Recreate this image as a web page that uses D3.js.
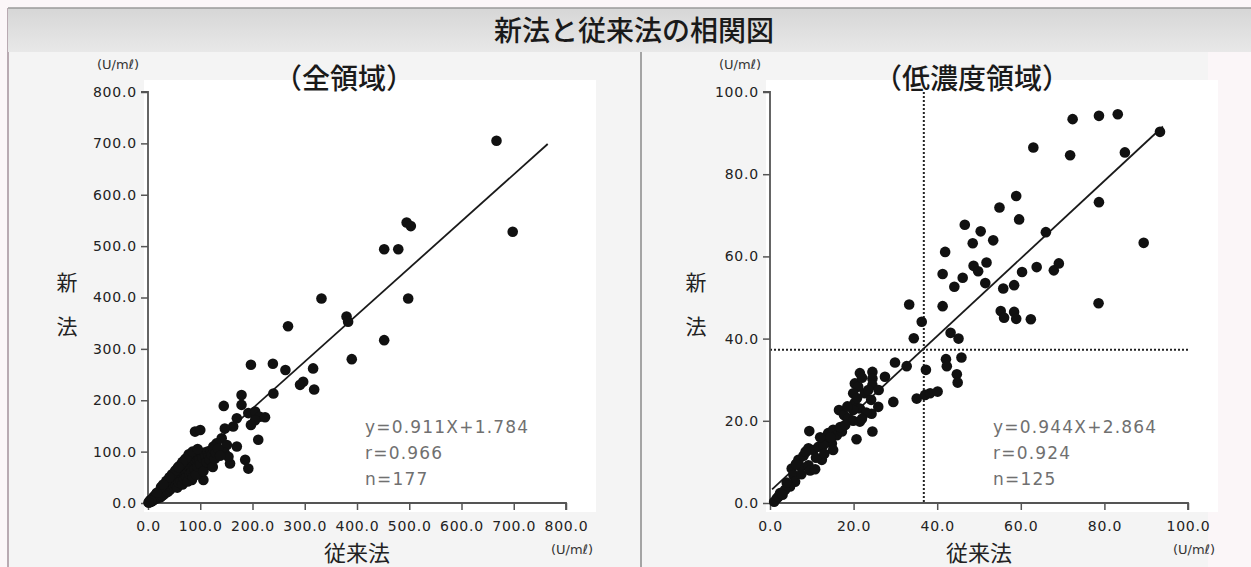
<!DOCTYPE html>
<html>
<head>
<meta charset="utf-8">
<script src="https://cdnjs.cloudflare.com/ajax/libs/d3/7.8.5/d3.min.js"></script>
<style>
  html, body { margin: 0; padding: 0; background: #fbf6f8; }
  svg { display: block; }
</style>
</head>
<body>
<svg id="chart" width="1251" height="567"></svg>
<script>
// ---- data ----
const mainTitle = "新法と従来法の相関図";
const panelTitles = ["（全領域）", "（低濃度領域）"];
const unitLabel = "(U/mℓ)";
const xLabel = "従来法";
const yLabelChars = ["新", "法"];

const fullTicks = [0, 100, 200, 300, 400, 500, 600, 700, 800];
const lowTicks = [0, 20, 40, 60, 80, 100];

const fullStats = ["y=0.911X+1.784", "r=0.966", "n=177"];
const lowStats = ["y=0.944X+2.864", "r=0.924", "n=125"];

const fullFit = { slope: 0.911, intercept: 1.784, xFrom: 0, xTo: 765 };
const lowFit = { slope: 0.944, intercept: 2.864, xFrom: 0.5, xTo: 94 };

// cut-off lines in low range chart
const cutoffX = 36.8;
const cutoffY = 37.3;

// full range points [従来法, 新法]
const fullPoints = [
  [667,705],[698,528],[495,546],[503,539],[452,494],[479,494],[332,398],[498,398],
  [380,363],[383,353],[452,317],[390,280],[316,262],[297,236],[291,230],[318,221],
  [268,344],[197,269],[239,271],[263,259],[240,213],[179,210],[179,191],[145,189],
  [192,175],[205,178],[214,168],[224,167],[205,161],[197,152],[170,165],[163,149],
  [147,145],[211,123],[90,139],[100,142],[141,126],[131,116],[151,113],[170,110],
  [147,97],[157,77],[154,90],[186,84],[192,67],[125,110],[119,100],[106,45],
  [109,71],[96,58],[84,45],
  [2,1],[3,4],[4,2],[5,6],[7,3],[8,8],[9,5],[10,11],[11,6],[12,13],[13,8],[14,15],
  [15,10],[16,18],[18,9],[19,14],[20,21],[21,12],[22,23],[23,16],[24,11],[25,26],
  [26,19],[27,14],[28,29],[30,22],[31,17],[32,33],[33,25],[34,20],[36,38],[37,28],
  [38,22],[39,41],[40,31],[42,26],[43,44],[44,35],[45,29],[47,49],[48,40],[49,33],
  [50,53],[52,43],[53,36],[54,56],[55,46],[56,30],[57,59],[58,49],[59,40],[61,62],
  [62,52],[63,43],[64,65],[65,56],[66,36],[67,68],[68,59],[69,47],[70,72],[72,63],
  [73,50],[74,75],[75,66],[76,42],[77,78],[79,70],[80,56],[81,82],[82,73],[83,60],
  [84,85],[85,77],[86,50],[87,88],[88,79],[89,66],[90,90],[91,82],[92,55],[93,92],
  [94,84],[95,71],[97,94],[98,86],[100,76],[102,96],[104,88],[106,62],[108,98],
  [110,90],[112,80],[114,100],[116,92],[118,84],[120,102],[122,94],[124,70],[126,104],
  [128,86],[130,98],[134,106],[138,92],[60,72],[71,85],[78,95],[46,56],[56,67],
  [35,43],[25,31],[17,20],[6,4],[1,1],[64,76],[74,88],[52,63],[41,50],[29,36],
  [85,100],[95,105],[66,80],[58,70]
];

// low range points [従来法, 新法]
const lowPoints = [
  [72.4,93.4],[78.7,94.2],[83.2,94.6],[93.3,90.3],[84.9,85.3],[63.0,86.5],[71.8,84.6],
  [58.9,74.7],[54.9,71.9],[59.6,69.0],[78.7,73.2],[46.6,67.7],[50.4,66.1],[48.5,63.2],
  [53.4,63.9],[66.0,65.9],[89.4,63.3],[41.9,61.1],[41.3,55.7],[48.7,57.7],[49.8,56.4],
  [51.8,58.5],[46.1,54.8],[44.1,52.6],[51.5,53.5],[55.8,52.2],[58.4,53.0],[60.3,56.2],
  [63.8,57.4],[67.9,56.6],[69.1,58.3],[41.3,47.9],[78.6,48.6],[55.2,46.7],[56.0,45.1],
  [58.4,46.5],[58.9,44.8],[62.4,44.7],[43.2,41.4],[45.1,40.0],[42.1,35.0],[42.3,33.3],
  [45.8,35.4],[44.7,31.3],[44.9,29.3],
  [33.3,48.3],[36.3,44.1],[34.4,40.1],[29.9,34.2],[32.7,33.3],[37.3,32.4],[35.1,25.4],
  [37.1,26.3],[38.3,26.7],[40.1,27.1],[29.5,24.6],[27.5,30.7],[24.5,31.9],[24.5,30.3],
  [24.5,28.7],[21.5,31.6],[20.3,29.1],[21.1,28.3],[19.9,26.7],[22.7,26.7],[24.2,25.1],
  [25.9,23.4],[24.3,21.7],[24.5,17.4],[20.2,24.3],[21.5,23.0],[19.9,22.6],[16.5,22.6],
  [17.7,21.4],[18.7,20.6],[19.9,20.0],[21.5,19.8],[20.7,15.5],[9.4,17.5],[13.9,17.0],
  [15.1,17.8],[16.0,16.5],[17.2,17.4],[13.6,15.3],[14.8,14.5],[15.1,12.9],[9.2,13.3],
  [10.4,12.9],[11.6,13.7],[12.8,14.1],[12.4,10.5],[6.8,10.5],[7.4,8.8],[9.2,9.2],
  [9.6,7.9],[10.8,8.2],[5.2,8.4],[5.6,6.8],[6.0,5.2],[4.8,4.0],[3.6,3.2],[2.4,2.4],
  [1.6,1.1],[1.0,0.3],
  [8.0,11.5],[11.0,11.0],[7.5,7.0],[4.0,5.0],[2.0,1.5],[13.0,12.0],[16.8,18.5],
  [18.0,19.0],[22.0,30.5],[23.5,27.5],[20.8,25.5],[23.0,22.0],[18.5,23.5],[12.0,16.0],
  [14.5,16.0],[8.5,12.5],[6.2,9.5],[26.0,27.5],[3.0,2.0],[22.0,20.5]
];

// ---- drawing ----
const svg = d3.select("#chart");
const fmt = d3.format(".1f");
const numFont = "'DejaVu Sans', sans-serif";
const jpFont = "'Noto Sans CJK JP', sans-serif";

// backgrounds
svg.append("rect").attr("x", 8).attr("y", 8).attr("width", 1200).attr("height", 559)
    .attr("fill", "#f4f4f4");
svg.append("line").attr("x1", 8).attr("y1", 8).attr("x2", 8).attr("y2", 567)
    .attr("stroke", "#b9aab2").attr("stroke-width", 2);

// title band
const grad = svg.append("defs").append("linearGradient")
    .attr("id", "band").attr("x1", 0).attr("y1", 0).attr("x2", 0).attr("y2", 1);
grad.append("stop").attr("offset", "0%").attr("stop-color", "#d6d6d6");
grad.append("stop").attr("offset", "100%").attr("stop-color", "#e8e8e8");
svg.append("rect").attr("x", 8).attr("y", 8).attr("width", 1243).attr("height", 44)
    .attr("fill", "url(#band)");
svg.append("line").attr("x1", 8).attr("y1", 8).attr("x2", 1251).attr("y2", 8)
    .attr("stroke", "#9a9a9a").attr("stroke-width", 1.5);

svg.append("text")
    .attr("x", 634).attr("y", 41)
    .attr("text-anchor", "middle")
    .style("font-family", jpFont).style("font-size", "28px").style("font-weight", 500)
    .attr("fill", "#1a1a1a")
    .text(mainTitle);

// divider between the two panels
svg.append("line").attr("x1", 641).attr("y1", 52).attr("x2", 641).attr("y2", 567)
    .attr("stroke", "#8a8a8a").attr("stroke-width", 1.5);

function drawPanel(opts) {
    const x = d3.scaleLinear().domain(opts.domain).range([opts.left, opts.left + 418]);
    const y = d3.scaleLinear().domain(opts.domain).range([503, 92]);
    const g = svg.append("g");

    // white plotting area
    g.append("rect")
        .attr("x", opts.left - 4).attr("y", 80)
        .attr("width", 452).attr("height", 432)
        .attr("fill", "#ffffff");

    // dotted cut-off lines
    if (opts.cutoff) {
        g.append("line")
            .attr("x1", x(opts.cutoff[0])).attr("x2", x(opts.cutoff[0]))
            .attr("y1", y(opts.domain[1])).attr("y2", y(0))
            .attr("stroke", "#222").attr("stroke-width", 2)
            .attr("stroke-dasharray", "2,2");
        g.append("line")
            .attr("x1", x(0)).attr("x2", x(opts.domain[1]))
            .attr("y1", y(opts.cutoff[1])).attr("y2", y(opts.cutoff[1]))
            .attr("stroke", "#222").attr("stroke-width", 2)
            .attr("stroke-dasharray", "2,2");
    }

    // axes
    const yAxis = g.append("g")
        .attr("transform", `translate(${x(0)},0)`)
        .call(d3.axisLeft(y).tickValues(opts.ticks).tickFormat(fmt).tickSize(7).tickPadding(4));
    const xAxis = g.append("g")
        .attr("transform", `translate(0,${y(0)})`)
        .call(d3.axisBottom(x).tickValues(opts.ticks).tickFormat(fmt).tickSize(7).tickPadding(8));
    [yAxis, xAxis].forEach(a => {
        a.select(".domain").attr("stroke", "#555").attr("stroke-width", 1.8);
        a.selectAll(".tick line").attr("stroke", "#555").attr("stroke-width", 1.5);
        a.selectAll(".tick text")
            .style("font-family", numFont).style("font-size", "14px")
            .style("letter-spacing", "0.8px")
            .attr("fill", "#222");
    });
    xAxis.selectAll(".tick text").attr("dy", "0.95em");
    yAxis.select(".domain").attr("d", `M-7,${y(opts.domain[1])}H0V${y(0)}`);
    xAxis.select(".domain").attr("d", `M${x(0)},0H${x(opts.domain[1])}V7`);

    // regression line
    const fit = opts.fit;
    g.append("line")
        .attr("x1", x(fit.xFrom)).attr("y1", y(fit.slope * fit.xFrom + fit.intercept))
        .attr("x2", x(fit.xTo)).attr("y2", y(fit.slope * fit.xTo + fit.intercept))
        .attr("stroke", "#1a1a1a").attr("stroke-width", 1.8);

    // points
    g.selectAll("circle.pt")
        .data(opts.points)
        .enter().append("circle")
        .attr("class", "pt")
        .attr("cx", d => x(d[0]))
        .attr("cy", d => y(d[1]))
        .attr("r", 5.3)
        .attr("fill", "#111");

    // statistics
    g.selectAll("text.stat")
        .data(opts.stats)
        .enter().append("text")
        .attr("class", "stat")
        .attr("x", opts.statX)
        .attr("y", (d, i) => 433 + i * 26)
        .style("font-family", numFont).style("font-size", "17px")
        .style("letter-spacing", "1.2px")
        .attr("fill", "#707070")
        .text(d => d);

    // unit labels
    g.append("text")
        .attr("x", x(0) - 30).attr("y", 69)
        .attr("text-anchor", "middle")
        .style("font-family", numFont).style("font-size", "13px")
        .attr("fill", "#333")
        .text(unitLabel);
    g.append("text")
        .attr("x", x(opts.domain[1]) + 6).attr("y", 554)
        .attr("text-anchor", "middle")
        .style("font-family", numFont).style("font-size", "13px")
        .attr("fill", "#333")
        .text(unitLabel);

    // panel subtitle
    g.append("text")
        .attr("x", opts.titleX).attr("y", 89)
        .attr("text-anchor", "middle")
        .style("font-family", jpFont).style("font-size", "28px").style("font-weight", 500)
        .attr("fill", "#1a1a1a")
        .text(opts.title);

    // axis titles
    g.append("text")
        .attr("x", (x(0) + x(opts.domain[1])) / 2).attr("y", 561)
        .attr("text-anchor", "middle")
        .style("font-family", jpFont).style("font-size", "22px")
        .attr("fill", "#222")
        .text(xLabel);
    g.selectAll("text.ylab")
        .data(yLabelChars)
        .enter().append("text")
        .attr("class", "ylab")
        .attr("x", opts.yLabX)
        .attr("y", (d, i) => 290 + i * 44)
        .attr("text-anchor", "middle")
        .style("font-family", jpFont).style("font-size", "21px")
        .attr("fill", "#222")
        .text(d => d);
}

drawPanel({
    left: 148, domain: [0, 800], ticks: fullTicks, points: fullPoints,
    fit: fullFit, stats: fullStats, statX: 365, title: panelTitles[0], titleX: 344,
    yLabX: 67
});
drawPanel({
    left: 770, domain: [0, 100], ticks: lowTicks, points: lowPoints,
    fit: lowFit, stats: lowStats, statX: 993, title: panelTitles[1], titleX: 972,
    yLabX: 696, cutoff: [cutoffX, cutoffY]
});
</script>
</body>
</html>
